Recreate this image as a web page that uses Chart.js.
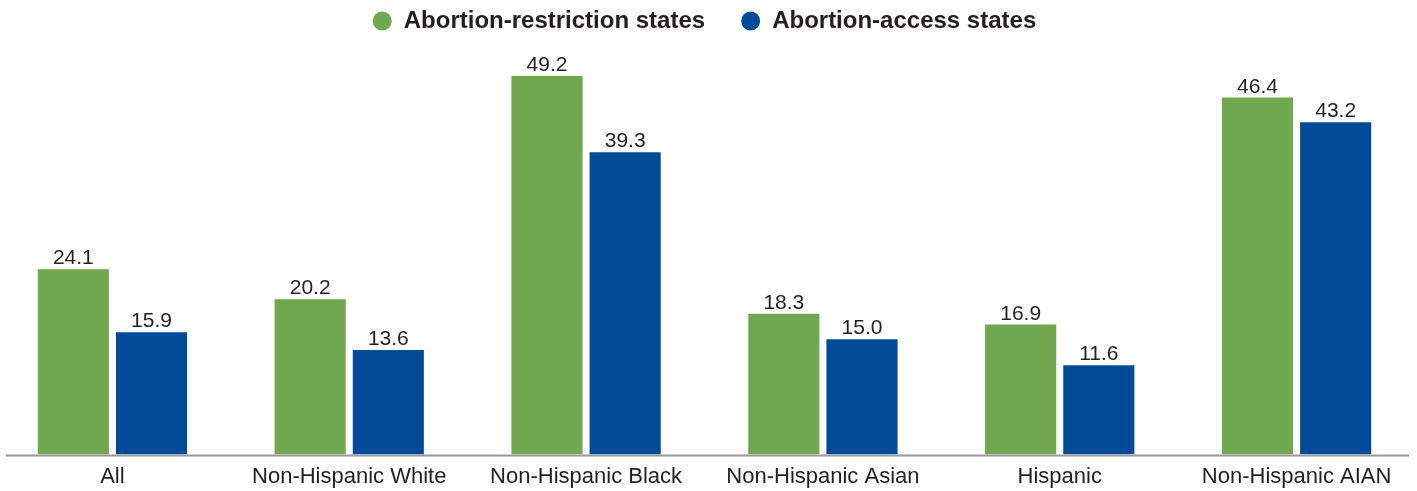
<!DOCTYPE html>
<html>
<head>
<meta charset="utf-8">
<script src="https://cdn.jsdelivr.net/npm/chart.js@4/dist/chart.umd.min.js"></script>
<style>
  html, body { margin: 0; padding: 0; background: #fff; overflow: hidden; }
  #wrap { position: relative; width: 1421px; height: 491px; margin-left: -6px; }
</style>
</head>
<body>
<div id="wrap"><canvas id="barChart"></canvas></div>
<script>
// group labels along the bottom
const categories = ["All", "Non-Hispanic White", "Non-Hispanic Black", "Non-Hispanic Asian", "Hispanic", "Non-Hispanic AIAN"];
// values per state group
const restrictionStates = [24.1, 20.2, 49.2, 18.3, 16.9, 46.4];
const accessStates = [15.9, 13.6, 39.3, 15.0, 11.6, 43.2];
const seriesNames = ["Abortion-restriction states", "Abortion-access states"];

const GREEN = "#70a84f";
const BLUE = "#004b97";
const TEXT = "#231f20";
const FONT = "'Liberation Sans', Arial, sans-serif";

// values printed above each bar
const barValueLabels = {
  id: "barValueLabels",
  afterDatasetsDraw(chart) {
    const ctx = chart.ctx;
    ctx.save();
    ctx.font = "21px " + FONT;
    ctx.fillStyle = TEXT;
    ctx.textAlign = "center";
    ctx.textBaseline = "alphabetic";
    chart.data.datasets.forEach((ds, i) => {
      chart.getDatasetMeta(i).data.forEach((bar, j) => {
        ctx.fillText(ds.data[j].toFixed(1), bar.x, bar.y - 5);
      });
    });
    ctx.restore();
  }
};

// grey baseline, slightly inset from the plot edges
const baseLine = {
  id: "baseLine",
  afterDatasetsDraw(chart) {
    const ctx = chart.ctx;
    const area = chart.chartArea;
    const y = chart.scales.y.getPixelForValue(0);
    ctx.save();
    ctx.strokeStyle = "#9a9a9a";
    ctx.lineWidth = 2;
    ctx.beginPath();
    ctx.moveTo(area.left + 12, y + 1);
    ctx.lineTo(area.right - 6, y + 1);
    ctx.stroke();
    ctx.restore();
  }
};

const ctx = document.getElementById("barChart").getContext("2d");
const myBarChart = new Chart(ctx, {
  type: "bar",
  data: {
    labels: categories,
    datasets: [
      {
        label: seriesNames[0],
        data: restrictionStates,
        backgroundColor: GREEN,
        borderWidth: 0,
        categoryPercentage: 0.66,
        barPercentage: 0.91,
      },
      {
        label: seriesNames[1],
        data: accessStates,
        backgroundColor: BLUE,
        borderWidth: 0,
        categoryPercentage: 0.66,
        barPercentage: 0.91,
      },
    ],
  },
  options: {
    responsive: true,
    maintainAspectRatio: false,
    animation: false,
    layout: { padding: { left: 0, right: 0, top: -27, bottom: -7.5 } },
    plugins: {
      legend: {
        position: "top",
        padding: 0,
        labels: {
          usePointStyle: true,
          pointStyle: "circle",
          boxWidth: 19,
          boxHeight: 13.4,
          padding: 36,
          color: TEXT,
          font: { family: FONT, size: 24, weight: "bold" },
        },
      },
      tooltip: { enabled: false },
    },
    scales: {
      x: {
        grid: { display: false, drawTicks: false },
        border: { display: false },
        ticks: {
          color: TEXT,
          padding: 8.8,
          maxRotation: 0,
          autoSkip: false,
          font: { family: FONT, size: 22 },
        },
      },
      y: {
        display: false,
        min: 0,
        max: 53.5,
      },
    },
  },
  plugins: [barValueLabels, baseLine],
});
</script>
</body>
</html>
